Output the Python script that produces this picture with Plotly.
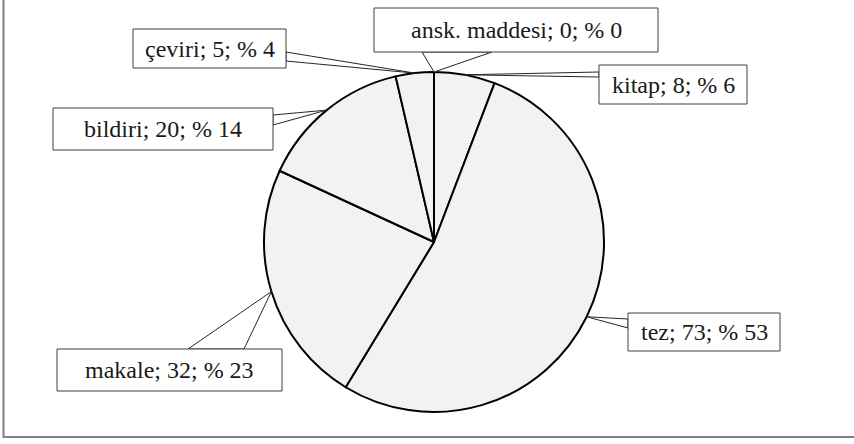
import math
import plotly.graph_objects as go

# ---- data ----
categories = ["ansk. maddesi", "kitap", "tez", "makale", "bildiri", "çeviri"]
values = [0, 8, 73, 32, 20, 5]
total = sum(values)
percents = [round(v / total * 100) for v in values]
labels = [f"{c}; {v}; % {p}" for c, v, p in zip(categories, values, percents)]

# ---- layout constants (pixels) ----
W, H = 854, 444
CX, CY, R = 434, 242, 170

# label boxes: (x0, y0, x1, y1) and wedge base points on the box edge
boxes = {
    "ansk. maddesi": ((374, 8, 658, 52), ((422, 52), (492, 52))),
    "kitap": ((599, 65, 747, 104), ((599, 72), (599, 77))),
    "tez": ((628, 313, 780, 351), ((628, 319), (628, 328))),
    "makale": ((57, 349, 282, 391), ((188, 349), (244, 349))),
    "bildiri": ((53, 108, 273, 150), ((273, 115), (273, 125))),
    "çeviri": ((133, 29, 286, 68), ((286, 52), (286, 61))),
}


def px(x):
    return x / W


def py(y):
    return 1 - y / H


fig = go.Figure(
    go.Pie(
        labels=categories,
        values=values,
        sort=False,
        direction="clockwise",
        rotation=0,
        textinfo="none",
        hoverinfo="none",
        showlegend=False,
        marker=dict(colors=["#f2f2f2"] * len(values), line=dict(color="#000000", width=2)),
        domain=dict(x=[px(CX - R), px(CX + R)], y=[py(CY + R), py(CY - R)]),
    )
)

shapes = []
annotations = []
cum = 0
for cat, val, lab in zip(categories, values, labels):
    mid = (cum + val / 2) / total * 2 * math.pi
    cum += val
    tx = CX + R * math.sin(mid)
    ty = CY - R * math.cos(mid)
    (x0, y0, x1, y1), (b1, b2) = boxes[cat]
    path = (
        f"M {px(b1[0])},{py(b1[1])} L {px(tx)},{py(ty)} L {px(b2[0])},{py(b2[1])} Z"
    )
    shapes.append(dict(type="path", path=path, xref="paper", yref="paper",
                       fillcolor="white", line=dict(color="#262626", width=1), layer="above"))
    shapes.append(dict(type="rect", xref="paper", yref="paper",
                       x0=px(x0), x1=px(x1), y0=py(y1), y1=py(y0),
                       fillcolor="white", line=dict(color="#404040", width=1), layer="above"))
    annotations.append(dict(x=px((x0 + x1) / 2), y=py((y0 + y1) / 2), xref="paper", yref="paper",
                            text=lab, showarrow=False, xanchor="center", yanchor="middle",
                            font=dict(family="Liberation Serif", size=24, color="#1a1a1a")))

# outer frame (left and bottom visible)
shapes.insert(0, dict(type="rect", xref="paper", yref="paper",
                      x0=px(3.5), x1=px(880), y0=py(437), y1=py(-30),
                      line=dict(color="#808080", width=2), fillcolor="rgba(0,0,0,0)", layer="below"))

fig.update_layout(
    width=W, height=H,
    margin=dict(l=0, r=0, t=0, b=0),
    paper_bgcolor="white",
    plot_bgcolor="white",
    shapes=shapes,
    annotations=annotations,
)

fig.write_html("out.html", config={"displayModeBar": False},
               post_script="document.body.style.margin='0';document.body.style.padding='0';")
